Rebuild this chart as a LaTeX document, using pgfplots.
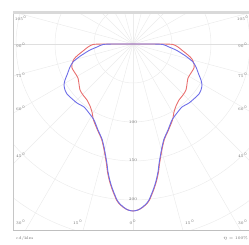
\documentclass[border=0pt]{standalone}
\usepackage{pgfplots}
\pgfplotsset{compat=1.18}
\definecolor{cred}{RGB}{232,110,110}
\definecolor{cblue}{RGB}{110,110,232}
\definecolor{gridc}{RGB}{236,236,236}
\definecolor{labc}{RGB}{110,110,110}
\begin{document}
\begin{tikzpicture}
\begin{axis}[
  x=1pt, y=1pt,
  xmin=-120, xmax=118, ymin=-186, ymax=31,
  ticks=none,
  axis line style={draw=none},
  clip=false,
]
% grid
\begin{scope}
\clip (axis cs:-120,-186) rectangle (axis cs:118,31);
\pgfplotsinvokeforeach{39,78,117,156,195,234}{
  \draw[gridc, line width=0.5pt] (axis cs:0,0) circle [radius=#1 pt];
}
\pgfplotsinvokeforeach{0,15,...,345}{
  \draw[gridc, line width=0.5pt] (axis cs:0,0) -- ++(#1:300pt);
}
\draw[gray!25, line width=0.6pt] (axis cs:-120,0) -- (axis cs:118,0);
\end{scope}
% frame
\draw[gray!50, line width=1pt] (axis cs:-120,-186) -- (axis cs:118,-186);
\draw[gray!45, line width=1pt] (axis cs:-120,-186) -- (axis cs:-120,31);
\draw[gray!30, line width=2.5pt] (axis cs:-120,31.5) -- (axis cs:118,31.5);
% labels
\begin{scope}[every node/.style={font=\fontsize{4}{4}\selectfont, text=labc, inner sep=0pt}]
\node at (axis cs:-112,26) {105$^\circ$};
\node at (axis cs:-112,-1) {90$^\circ$};
\node at (axis cs:-112,-31) {75$^\circ$};
\node at (axis cs:-112,-64) {60$^\circ$};
\node at (axis cs:-112,-111) {45$^\circ$};
\node at (axis cs:-112,-178) {30$^\circ$};
\node at (axis cs:110,26) {105$^\circ$};
\node at (axis cs:110,-1) {90$^\circ$};
\node at (axis cs:110,-31) {75$^\circ$};
\node at (axis cs:110,-64) {60$^\circ$};
\node at (axis cs:110,-111) {45$^\circ$};
\node at (axis cs:110,-178) {30$^\circ$};
\node at (axis cs:-55,-178) {15$^\circ$};
\node at (axis cs:0,-178) {0$^\circ$};
\node at (axis cs:57,-178) {15$^\circ$};
\node at (axis cs:0,-78) {100};
\node at (axis cs:0,-116) {150};
\node at (axis cs:0,-155) {200};
\node[anchor=west] at (axis cs:-117,-194) {cd/klm};
\node[anchor=east] at (axis cs:115,-194) {$\eta$ = 100\%};
\end{scope}
% C0 - C180 (red)
\addplot[cred, line width=0.9pt, smooth, tension=0.4] coordinates {
(0,0)(30,0)(40,-0.5)(45,-3)(50,-7)(55,-11)(59,-15)(61,-20)(61,-24)(58,-29)(55,-34)(54,-40)(53,-46)(50,-51)(46,-56)(43,-62)(41,-68)(39.5,-76)(35.5,-86)(31.5,-95)(29.5,-103)(28,-111)(26.5,-120)(25.5,-128)(23.5,-137)(21,-145)(16.5,-156)(13.5,-160)(9.5,-163.5)(5,-166)(0,-167)
(-5,-166)(-9.5,-163.5)(-13.5,-160)(-16.5,-156)(-21,-145)(-23.5,-137)(-25.5,-128)(-26.5,-120)(-28,-111)(-29.5,-103)(-31.5,-95)(-35.5,-86)(-39.5,-76)(-41,-68)(-43,-62)(-46,-56)(-50,-51)(-53,-46)(-54,-40)(-55,-34)(-58,-29)(-61,-24)(-61,-20)(-59,-15)(-55,-11)(-50,-7)(-45,-3)(-40,-0.5)(-30,0)(0,0)
};
% C90 - C270 (blue)
\addplot[cblue, line width=0.9pt, smooth, tension=0.4] coordinates {
(0,0)(20,0)(30,-0.5)(36,-3)(43,-6)(48,-9)(54,-13)(60,-18)(63,-23)(66,-31)(68,-36)(69,-41)(68,-46)(66,-50)(63,-53)(56,-59)(49,-63)(44,-69)(39,-76)(35,-86)(31,-95)(29,-103)(27.5,-111)(26,-120)(25,-128)(23,-137)(20.5,-145)(16,-156)(13,-160)(9,-163.5)(5,-166)(0,-167)
(-5,-166)(-9,-163.5)(-13,-160)(-16,-156)(-20.5,-145)(-23,-137)(-25,-128)(-26,-120)(-27.5,-111)(-29,-103)(-31,-95)(-35,-86)(-39,-76)(-44,-69)(-49,-63)(-56,-59)(-63,-53)(-66,-50)(-68,-46)(-69,-41)(-68,-36)(-66,-31)(-63,-23)(-60,-18)(-54,-13)(-48,-9)(-43,-6)(-36,-3)(-30,-0.5)(-20,0)(0,0)
};
\coordinate (bbA) at (axis cs:-133,-200);
\coordinate (bbB) at (axis cs:116,44);
\end{axis}
\pgfresetboundingbox
\path[use as bounding box] (bbA) rectangle (bbB);
\end{tikzpicture}
\end{document}
